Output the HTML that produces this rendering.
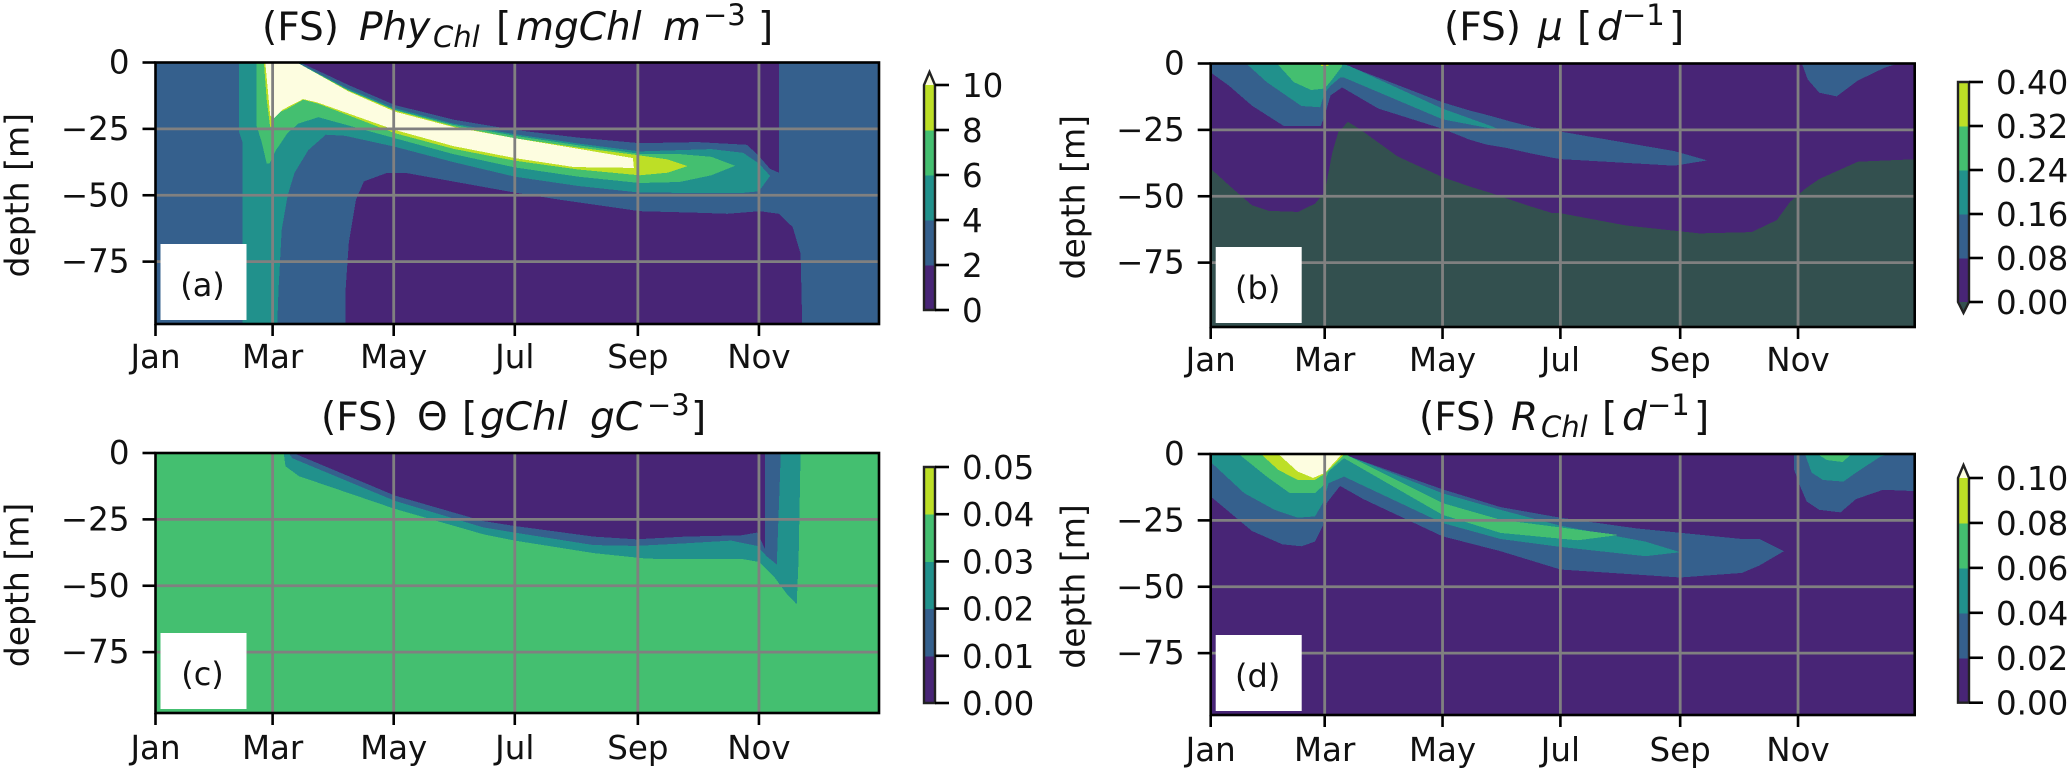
<!DOCTYPE html>
<html lang="en">
<head>
<meta charset="utf-8">
<title>FS phytoplankton depth-time panels</title>
<style>
html,body{margin:0;padding:0;background:#fff;}
svg{display:block;}
text{font-family:"DejaVu Sans","Liberation Sans",sans-serif;fill:#111;}
.title{font-size:39px;}
.it{font-style:oblique;}
.tick{font-size:32.5px;}
</style>
</head>
<body>
<svg id="fig" xmlns="http://www.w3.org/2000/svg" width="2067" height="771" viewBox="0 0 2067 771">
<rect x="0" y="0" width="2067" height="771" fill="#fff"/>
<g id="marks"></g>
<g id="texts">
<text class="title" y="40"><tspan x="262">(FS)</tspan><tspan class="it" x="359">Phy</tspan><tspan class="it" font-size="29" x="433" dy="7">Chl</tspan><tspan x="496" dy="-7">[</tspan><tspan class="it" x="516">mgChl</tspan><tspan class="it" x="663">m</tspan><tspan font-size="29" x="703" dy="-15">−3</tspan><tspan x="758" dy="15">]</tspan></text>
<text class="title" y="40"><tspan x="1444">(FS)</tspan><tspan class="it" x="1538">μ</tspan><tspan x="1577">[</tspan><tspan class="it" x="1597">d</tspan><tspan font-size="29" x="1622" dy="-15">−1</tspan><tspan x="1669" dy="15">]</tspan></text>
<text class="title" y="430"><tspan x="321">(FS)</tspan><tspan x="417">Θ</tspan><tspan x="462">[</tspan><tspan class="it" x="480">gChl</tspan><tspan class="it" x="590">gC</tspan><tspan font-size="29" x="647" dy="-15">−3</tspan><tspan x="691" dy="15">]</tspan></text>
<text class="title" y="430"><tspan x="1419">(FS)</tspan><tspan class="it" x="1511">R</tspan><tspan class="it" font-size="29" x="1541" dy="7">Chl</tspan><tspan x="1602" dy="-7">[</tspan><tspan class="it" x="1622">d</tspan><tspan font-size="29" x="1647" dy="-15">−1</tspan><tspan x="1694" dy="15">]</tspan></text>
</g>
</svg>
<script>
// ---------- shared axis data ----------
const monthLabels = ["Jan","Mar","May","Jul","Sep","Nov"];
const monthDays = [0,59,120,181,243,304];
const depthTicks = [0,25,50,75];

// ---------- colours ----------
const binColors = ["#482576","#35608d","#21918c","#44bf70","#bddf26"];
const overColor = "#fdfde0";
const shadeColor = "#33504f";

// ---------- colourbar ticks ----------
const cbTicksA = ["0","2","4","6","8","10"];
const cbTicksB = ["0.00","0.08","0.16","0.24","0.32","0.40"];
const cbTicksC = ["0.00","0.01","0.02","0.03","0.04","0.05"];
const cbTicksD = ["0.00","0.02","0.04","0.06","0.08","0.10"];

// ---------- panel (a) contour regions: [day, depth] ----------
const aBase = 1;
const aPurpleUpper = [[73,0],[97,8.4],[120.5,16],[150,21.5],[181,25.4],[213,28.3],[244,30.4],[273,30],[298,31],[303.7,35],[309.5,40],[314,41.5],[314,0]];
const aPurpleLower = [[95.6,105],[95.8,85],[97.4,68],[101,51.6],[105,44.8],[116.6,41.6],[126,41.6],[181,49],[203,51.6],[244,56],[274,56.6],[288,57],[304.5,56],[314,57],[321,62],[325,72],[326,105]];
const aTeal = [[42,0],[42,26],[43.8,30],[43.8,105],[61,105],[62,85],[63.6,63],[66.6,50],[70,41.6],[77,33],[85.8,27.2],[95.4,27.6],[120.5,31.7],[150,37.5],[181,43],[213,46.5],[244,49],[295,49.2],[304,48.5],[309.6,42.7],[304,38],[296,34],[280,32.6],[244,33.5],[213,30.5],[181,27],[150,23],[120.5,17.2],[97,9.8],[74,1],[72,0]];
const aGreen = [[51,0],[51,24],[53.5,30],[56,38],[57.5,38],[60.7,33],[66.5,26.6],[72,23],[82,20.6],[120.5,28.5],[150,34.5],[181,39.5],[213,43],[244,45.4],[264,45],[280,42.5],[292,38.9],[280,35.5],[264,34.5],[244,34.4],[213,31.2],[181,27.6],[150,23.5],[120.5,17.8],[97,10.4],[75,1.5],[71,0]];
const aLime = [[54.6,0],[56,14],[57.7,24],[58.5,24.5],[60,19.5],[66,17.6],[74.4,14],[82,15.5],[120.5,26.6],[150,32.5],[181,37],[213,40.3],[244,42.5],[258,41.5],[268,39],[258,36.5],[244,35],[213,32],[181,28.5],[150,24],[120.5,18],[97,10.5],[73,0.8],[71,0]];
const aWhite = [[55.3,0],[57.8,20],[59.8,21],[64.2,17.7],[74.3,13.8],[81.3,15],[120.5,25.4],[150,31.5],[181,36],[211,39.4],[241,39.7],[240.5,36],[213,32.5],[181,28.5],[150,24.3],[120.5,18.5],[97,10.8],[71.3,0]];

// ---------- panel (b) contour regions ----------
const bBase = 0;
const bBlueMain = [[0,0],[0,3.4],[9.5,8.4],[21.4,15.9],[38,23.6],[57,23.6],[59,19.6],[62,12],[68,9],[86.8,17],[120,24.6],[134,28.7],[143,30.6],[153,31.8],[164,33.6],[177,35.5],[181,36],[240,38.5],[257,36.5],[240,33],[192,27],[181,25.6],[166.6,24],[155,21.8],[144.7,19.7],[134,17.7],[120,14.6],[70,0.6],[67,0]];
const bBlueNov = [[306,0],[309,6],[315,11],[324,12.4],[335,6.4],[349,1.5],[356,0]];
const bTeal = [[18.4,0],[29,7],[39,12],[47,16],[56.7,16.5],[59,11],[62,8.4],[67,5.3],[69,5.3],[120,21],[145,24.5],[152,25.7],[145,23.5],[120,17],[72,1],[68,0]];
const bGreen = [[34.3,0],[43,7],[52,10],[59,9.4],[63,5.9],[68,1],[68,0]];
const bLime = [[57,0],[57,1],[61,1],[61,0]];
const bShade = [[0,39.6],[9.5,45.9],[21.4,53.4],[30.3,55.5],[45.2,55.9],[54,52.8],[59,48.4],[63,33.4],[66,25.9],[71,22],[76.9,24.6],[96.7,35],[120,42.8],[134.3,46.4],[144.7,48.7],[153,50.8],[165,53.7],[177,56.4],[181,56.4],[215,61],[253,64],[280,63.5],[293,59],[300,52],[308,47],[315,43.5],[335,37],[366,36],[366,105],[0,105]];

// ---------- panel (c) contour regions ----------
const cBase = 3;
const cTeal = [[64.6,0],[65.5,5],[72.3,8.75],[120.5,21],[165,30.6],[181,33],[220.7,37.7],[247.7,39.8],[275,40],[296,40],[304,41],[312,47],[318,53],[323,57],[324,40],[325,0]];
const cBlue = [[67,0],[69,2],[120.5,18],[165,28],[181,30],[220.7,34.7],[242,35],[267,34],[290,33],[303,35],[308,39],[313,42],[315,0]];
const cPurple = [[69.4,0],[120.5,16],[165,25.6],[181,27.5],[220.7,31.5],[242,32.5],[267,31.5],[295,31],[303,30],[307,36],[307,0]];

// ---------- panel (d) contour regions ----------
const dBase = 0;
const dBlueMain = [[0,0],[0,16],[21.4,29],[37,34],[47,34.75],[54,33],[58,27],[60,18.5],[67,12],[79,17],[120,31],[150,36.6],[181,43.5],[243,46.5],[275,44.8],[284,42],[296.7,36.6],[284,32],[275,32],[220,28],[181,24],[150,20],[120,13.3],[71,0.75],[70,0]];
const dBlueNov = [[302,0],[302,6],[305,12],[308.5,17.9],[315,21],[326,22],[334,17],[348,13.5],[366,14],[366,0]];
const dTeal = [[0,0],[0,3],[17.4,14.75],[33,21],[45,24],[54,23.5],[58,18.5],[61,11],[69,8.5],[120,26],[150,32],[181,35],[225,38.5],[243,37],[225,33],[181,27],[150,21],[120,14.8],[72,0.9],[70,0]];
const dTealNov = [[307.6,0],[311,7],[317,9.8],[327.5,10.4],[334,7],[346.6,1],[351,0]];
const dGreen = [[14.5,0],[29,8.5],[41,14.75],[54,14.75],[58,12],[61,6.6],[69,1.6],[120,22.9],[150,29.7],[190,32.5],[211,30.5],[190,28.5],[150,24.75],[120,18.5],[72,1],[70,0]];
const dGreenNov = [[314,0],[319,2.3],[327,3],[331,0.5],[331,0]];
const dLime = [[26,0],[35,6],[45,9.75],[54,9.75],[59.4,7.25],[61,6],[68,1],[69,0]];
const dWhite = [[35,0],[45,6.6],[53,9],[59.4,7],[62,4.75],[68,0]];

// ---------- helpers ----------
const NS = "http://www.w3.org/2000/svg";
const root = document.getElementById("marks");
function make(tag, attrs, parent){
  const e = document.createElementNS(NS, tag);
  for (const k in attrs) e.setAttribute(k, attrs[k]);
  (parent || root).appendChild(e);
  return e;
}
function scales(p){
  return {
    x: function(day){ return p.left + day * p.pxDay; },
    y: function(depth){ return p.top + depth * p.pxDepth; }
  };
}
function drawRegion(group, s, pts, color){
  const poly = make("polygon", {
    points: pts.map(function(q){ return s.x(q[0]).toFixed(1) + "," + s.y(q[1]).toFixed(1); }).join(" "),
    fill: color, "shape-rendering": "crispEdges"
  }, group);
  
  
}

const panels = [
 {id:"a", left:155.5, right:879, top:62.5, bottom:324, pxDay:1.985, pxDepth:2.655, ylab:19, xlab:44, base:aBase,
  layers:[[aPurpleUpper,0],[aPurpleLower,0],[aTeal,2],[aGreen,3],[aLime,4],[aWhite,5]],
  cb:{l:924,r:935,top:85,bot:310,ticks:cbTicksA,over:true,under:false}, label:"(a)"},
 {id:"b", left:1210.7, right:1914.7, top:63.5, bottom:327, pxDay:1.932, pxDepth:2.655, ylab:1075, xlab:44, base:bBase,
  layers:[[bBlueMain,1],[bBlueNov,1],[bTeal,2],[bGreen,3],[bLime,4],[bShade,6]],
  cb:{l:1958,r:1969,top:82,bot:302,ticks:cbTicksB,over:false,under:true}, label:"(b)"},
 {id:"c", left:155.5, right:879, top:453, bottom:713, pxDay:1.985, pxDepth:2.655, ylab:19, xlab:46, base:cBase,
  layers:[[cTeal,2],[cBlue,1],[cPurple,0]],
  cb:{l:924,r:935,top:467,bot:703,ticks:cbTicksC,over:false,under:false}, label:"(c)"},
 {id:"d", left:1210.7, right:1914.7, top:454, bottom:715, pxDay:1.932, pxDepth:2.655, ylab:1075, xlab:46, base:dBase,
  layers:[[dBlueMain,1],[dBlueNov,1],[dTeal,2],[dTealNov,2],[dGreen,3],[dGreenNov,3],[dLime,4],[dWhite,5]],
  cb:{l:1958,r:1969,top:478,bot:702.7,ticks:cbTicksD,over:true,under:false}, label:"(d)"}
];
function colorOf(i){
  if (i === 5) return overColor;
  if (i === 6) return shadeColor;
  return binColors[i];
}

panels.forEach(function(p){
  const s = scales(p);
  const g = make("g", {});
  
  

  const clip = make("clipPath", {id:"clip-" + p.id}, g);
  make("rect", {x:p.left, y:p.top, width:p.right - p.left, height:p.bottom - p.top}, clip);

  const field = make("g", {"clip-path":"url(#clip-" + p.id + ")"}, g);
  
  

  const bg = make("rect", {x:p.left, y:p.top, width:p.right - p.left, height:p.bottom - p.top, fill:binColors[p.base]}, field);
  
  

  p.layers.forEach(function(l){ drawRegion(field, s, l[0], colorOf(l[1])); });

  // grid
  monthDays.forEach(function(d, i){
    if (i === 0) return;
    const gl = make("line", {x1:s.x(d), x2:s.x(d), y1:p.top, y2:p.bottom, stroke:"#808080", "stroke-width":2.8}, field);
    
    
  });
  depthTicks.forEach(function(d, i){
    if (i === 0) return;
    const gl = make("line", {x1:p.left, x2:p.right, y1:s.y(d), y2:s.y(d), stroke:"#808080", "stroke-width":2.8}, field);
    
    
  });

  // panel label box
  const box = make("rect", {x:p.left + 5, y:p.bottom - 80, width:86, height:76, fill:"#fff"}, g);
  
  
  const lab = make("text", {x:p.left + 47, y:p.bottom - 28, "text-anchor":"middle", "font-size":32}, g);
  lab.textContent = p.label;
  
  

  // spines
  const frame = make("rect", {x:p.left, y:p.top, width:p.right - p.left, height:p.bottom - p.top, fill:"none", stroke:"#000", "stroke-width":2.6}, g);
  
  

  // x ticks
  monthDays.forEach(function(d, i){
    const t = make("line", {x1:s.x(d), x2:s.x(d), y1:p.bottom, y2:p.bottom + 12, stroke:"#000", "stroke-width":2.6}, g);
    
    
    const tx = make("text", {x:s.x(d), y:p.bottom + p.xlab, "text-anchor":"middle", "class":"tick"}, g);
    tx.textContent = monthLabels[i];
    
    
  });

  // y ticks
  depthTicks.forEach(function(d){
    const t = make("line", {x1:p.left - 13, x2:p.left, y1:s.y(d), y2:s.y(d), stroke:"#000", "stroke-width":2.6}, g);
    
    
    const tx = make("text", {x:p.left - 26, y:s.y(d) + 11, "text-anchor":"end", "class":"tick"}, g);
    tx.textContent = d === 0 ? "0" : "\u2212" + d;
    
    
  });

  // y title
  const cy = (p.top + p.bottom) / 2 + 2;
  const yt = make("text", {x:p.ylab, y:cy, "text-anchor":"middle", "font-size":33, transform:"rotate(-90 " + p.ylab + " " + cy + ")", "dominant-baseline":"middle"}, g);
  yt.textContent = "depth [m]";
  
  

  // colourbar
  const c = p.cb;
  const n = c.ticks.length - 1;
  const step = (c.bot - c.top) / n;
  const cbg = make("g", {}, g);
  
  
  for (let i = 0; i < n; i++){
    const r = make("rect", {x:c.l, y:c.bot - (i + 1) * step, width:c.r - c.l, height:step + 0.5, fill:binColors[i], "shape-rendering":"crispEdges"}, cbg);
    
    
  }
  const mid = (c.l + c.r) / 2;
  if (c.over){
    const tri = make("polygon", {points:c.l + "," + c.top + " " + mid + "," + (c.top - 13) + " " + c.r + "," + c.top, fill:overColor}, cbg);
    
    
  }
  if (c.under){
    const tri = make("polygon", {points:c.l + "," + c.bot + " " + mid + "," + (c.bot + 11) + " " + c.r + "," + c.bot, fill:shadeColor}, cbg);
    
    
  }
  let outline = c.l + "," + c.bot + " ";
  if (c.under) outline += mid + "," + (c.bot + 11) + " ";
  outline += c.r + "," + c.bot + " " + c.r + "," + c.top + " ";
  if (c.over) outline += mid + "," + (c.top - 13) + " ";
  outline += c.l + "," + c.top;
  const ol = make("polygon", {points:outline, fill:"none", stroke:"#222", "stroke-width":2.4}, cbg);
  
  
  c.ticks.forEach(function(lbl, i){
    const y = c.bot - i * step;
    const t = make("line", {x1:c.r, x2:c.r + 14, y1:y, y2:y, stroke:"#000", "stroke-width":2.6}, cbg);
    
    
    const tx = make("text", {x:c.r + 27, y:y + 12, "class":"tick"}, cbg);
    tx.textContent = lbl;
    
    
  });
});
</script>
</body>
</html>
